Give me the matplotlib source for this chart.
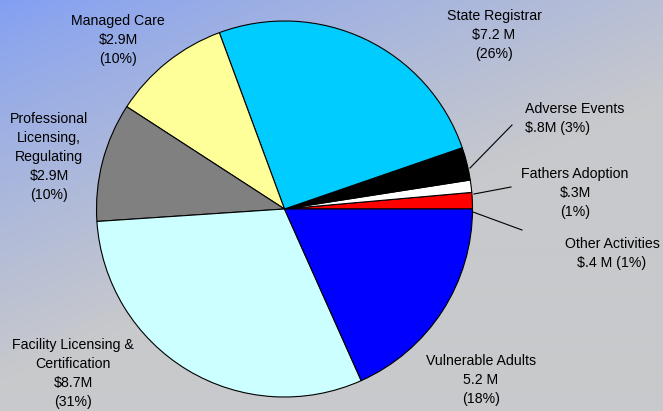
import numpy as np
import matplotlib.pyplot as plt
from matplotlib.colors import to_rgb

plt.rcParams['font.family'] = ['Liberation Sans', 'DejaVu Sans']

# slices, counter-clockwise from 3 o'clock
names = ["Other Activities", "Fathers Adoption", "Adverse Events", "State Registrar",
         "Managed Care", "Professional Licensing, Regulating",
         "Facility Licensing & Certification", "Vulnerable Adults"]
amounts = [0.4, 0.3, 0.8, 7.2, 2.9, 2.9, 8.7, 5.2]
label_texts = [
    "Other Activities\n$.4 M (1%)",
    "Fathers Adoption\n$.3M\n(1%)",
    "Adverse Events\n$.8M (3%)",
    "State Registrar\n$7.2 M\n(26%)",
    "Managed Care\n$2.9M\n(10%)",
    "Professional\nLicensing,\nRegulating\n$2.9M\n(10%)",
    "Facility Licensing &\nCertification\n$8.7M\n(31%)",
    "Vulnerable Adults\n5.2 M\n(18%)",
]
colors = ["#ff0000", "#ffffff", "#000000", "#00ccff",
          "#ffff99", "#808080", "#ccffff", "#0000ff"]

W, H = 663, 411
fig = plt.figure(figsize=(W / 100, H / 100), dpi=100)

# background gradient: blue top-left fading to grey
bg = fig.add_axes([0, 0, 1, 1])
bg.set_axis_off()
yy, xx = np.mgrid[0:H, 0:W]
s = np.clip(xx / 900 + yy / 380, 0, 1) ** 0.8
c0 = np.array(to_rgb("#809ef4"))
c1 = np.array(to_rgb("#c8c9cc"))
img = c0[None, None, :] * (1 - s[..., None]) + c1[None, None, :] * s[..., None]
bg.imshow(img, extent=[0, W, 0, H], origin="upper", aspect="auto")
bg.set_xlim(0, W)
bg.set_ylim(0, H)

ax = fig.add_axes([0, 0, 1, 1])
ax.patch.set_alpha(0)

cx, cy, r = 284.5, H - 209, 188
ax.pie(amounts, colors=colors, startangle=0, counterclock=True,
       center=(cx, cy), radius=r, frame=True,
       wedgeprops=dict(edgecolor="black", linewidth=0.8))
ax.set_xlim(0, W)
ax.set_ylim(0, H)
ax.set_axis_off()

# label layout (pixel coords from top): x, top of first line, alignment
layout = [
    (612, 237, "center"),
    (575, 167, "center"),
    (525, 102, "left"),
    (494, 9, "center"),
    (118, 14, "center"),
    (49, 112, "center"),
    (73, 338, "center"),
    (481, 354, "center"),
]
for txt, (x, y, ha) in zip(label_texts, layout):
    ax.text(x, H - y, txt, ha=ha, va="top", fontsize=10.2,
            linespacing=1.45, color="black")

# leader lines for the small slices
leaders = [((473, 212), (522, 230)), ((474, 194), (511, 187)), ((470, 168), (512, 125))]
for (x0, y0), (x1, y1) in leaders:
    ax.plot([x0, x1], [H - y0, H - y1], color="black", linewidth=0.8)

fig.savefig("out.png", dpi=100)
